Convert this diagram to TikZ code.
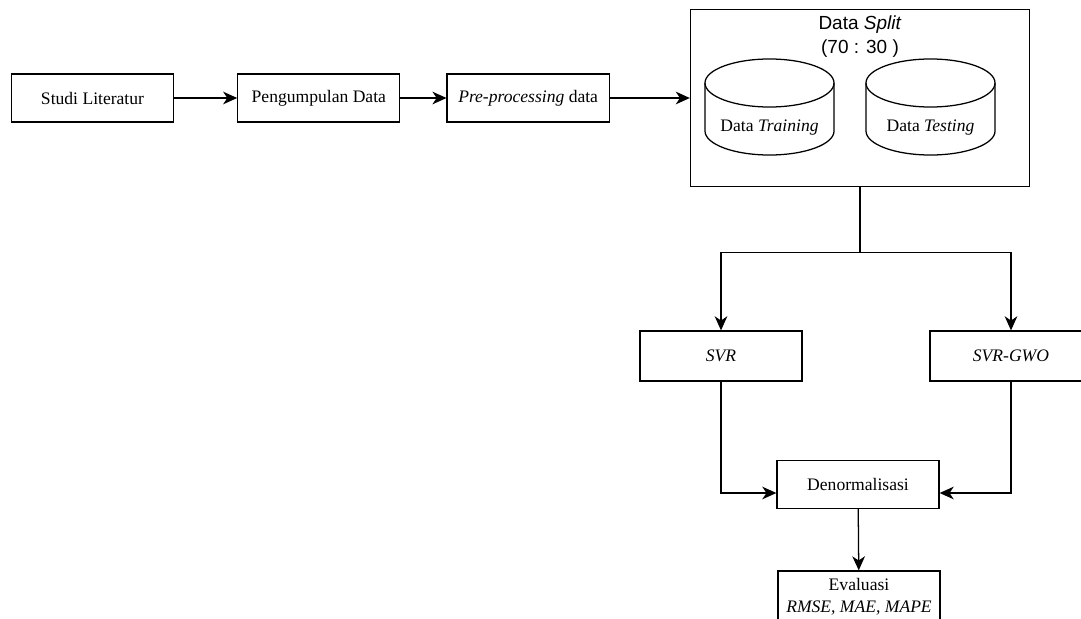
\documentclass[tikz,border=0pt]{standalone}
\usepackage{fontspec}
\setmainfont{Liberation Serif}
\newfontfamily\splitfont{Liberation Sans}
\usepackage{tikz}
\usetikzlibrary{positioning,arrows.meta}

\begin{document}
\begin{tikzpicture}[x=0.025cm,y=-0.025cm]
\tikzstyle{kotak}=[draw,line width=0.9pt,minimum width=4.05cm,minimum height=1.2cm,inner sep=2pt,align=center,font=\fontsize{12.5}{15.5}\selectfont]
\tikzstyle{tabung}=[line width=0.9pt]
\tikzstyle{isi}=[inner sep=1pt,font=\fontsize{12.5}{15.5}\selectfont]
\tikzstyle{panah}=[line width=0.9pt,-{Stealth[length=10pt,width=9pt,inset=3pt]}]

    \useasboundingbox (0,0) rectangle (1081,619);

    % alur atas
    \node[kotak] (studi) at (92.5,98) {Studi Literatur};
    \node[kotak, right=1.575cm of studi] (kumpul) {Pengumpulan Data};
    \node[kotak, right=1.15cm of kumpul] (pre) {\textit{Pre-processing} data};
    \node[draw, line width=0.9pt, minimum width=8.475cm, minimum height=4.425cm, right=2cm of pre] (split) {};
    \node[below=0pt of split.north, inner sep=4.5pt, align=center, font=\splitfont\fontsize{13.5}{17.5}\selectfont] (judul) {Data \textit{Split}\\(70 : 30 )};

    % tabung data
    \draw[tabung] (705,83) -- (705,131) arc[start angle=180,end angle=360,x radius=1.6125cm,y radius=0.6cm] -- (834,83);
    \draw[tabung] (769.5,83) ellipse[x radius=1.6125cm,y radius=0.6cm];
    \draw[tabung] (866,83) -- (866,131) arc[start angle=180,end angle=360,x radius=1.6125cm,y radius=0.6cm] -- (995,83);
    \draw[tabung] (930.5,83) ellipse[x radius=1.6125cm,y radius=0.6cm];
    \node[isi] (latih) at (769.5,128) {Data \textit{Training}};
    \node[isi] (uji) at (930.5,128) {Data \textit{Testing}};

    % model
    \path (split.south) ++(0,65) coordinate (cabang);
    \node[kotak, minimum height=1.25cm] (svr) at (721,356) {\textit{SVR}};
    \node[kotak, minimum height=1.25cm] (gwo) at (1011,356) {\textit{SVR-GWO}};
    \node[kotak] (denorm) at (858,484.5) {Denormalisasi};
    \coordinate (masuk) at (858,493);
    \node[kotak, minimum height=1.3cm] (eval) at (859,597) {Evaluasi\\\textit{RMSE, MAE, MAPE}};

    \draw[panah] (studi) -- (kumpul);
    \draw[panah] (kumpul) -- (pre);
    \draw[panah] (pre) -- (pre -| split.west);
    \draw[line width=0.9pt] (split.south) -- (cabang);
    \draw[panah] (cabang) -| (svr.north);
    \draw[panah] (cabang) -| (gwo.north);
    \draw[panah] (svr.south) |- (denorm.west |- masuk);
    \draw[panah] (gwo.south) |- (denorm.east |- masuk);
    \draw[panah] (denorm) -- (eval);
\end{tikzpicture}
\end{document}
